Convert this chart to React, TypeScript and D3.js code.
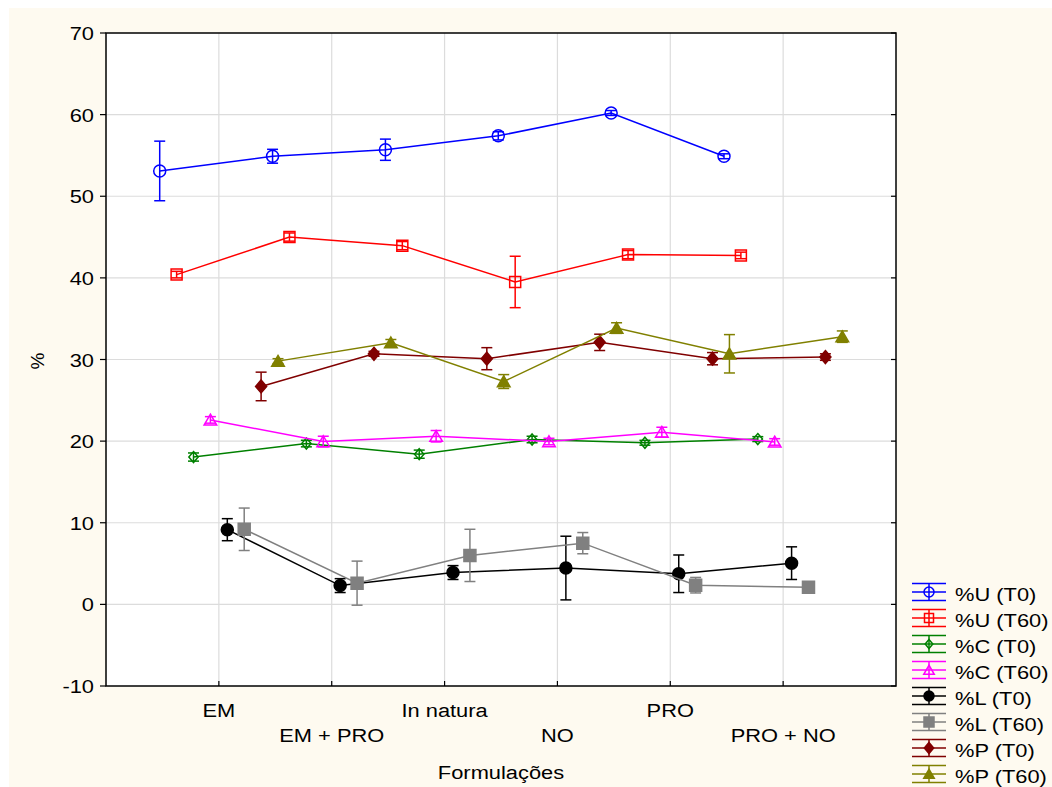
import React, { useEffect, useRef } from 'react';
import * as d3 from 'd3';

// Categories on the x axis
const categories = ['EM', 'EM + PRO', 'In natura', 'NO', 'PRO', 'PRO + NO'];

// Series names (legend order)
const seriesNames = ['%U (T0)', '%U (T60)', '%C (T0)', '%C (T60)', '%L (T0)', '%L (T60)', '%P (T0)', '%P (T60)'];

// Mean values per series, one per category
const uT0 = [53.1, 54.9, 55.7, 57.4, 60.2, 54.9];
const uT60 = [40.4, 45.0, 43.95, 39.5, 42.85, 42.75];
const cT0 = [18.05, 19.7, 18.4, 20.2, 19.8, 20.25];
const cT60 = [22.6, 19.95, 20.6, 19.95, 21.1, 19.9];
const lT0 = [9.15, 2.3, 3.9, 4.45, 3.75, 5.05];
const lT60 = [9.2, 2.6, 6.0, 7.5, 2.35, 2.1];
const pT0 = [26.7, 30.7, 30.1, 32.1, 30.1, 30.3];
const pT60 = [29.8, 32.05, 27.3, 33.85, 30.7, 32.8];

// Error bar half-widths
const uT0Err = [3.65, 0.85, 1.3, 0.5, 0.3, 0.3];
const uT60Err = [0.4, 0.5, 0.5, 3.15, 0.5, 0.4];
const cT0Err = [0.5, 0.4, 0.5, 0.4, 0.3, 0.3];
const cT60Err = [0.4, 0.65, 0.7, 0.4, 0.6, 0.4];
const lT0Err = [1.35, 0.85, 0.85, 3.9, 2.3, 2.0];
const lT60Err = [2.6, 2.7, 3.2, 1.3, 0.95, 0.3];
const pT0Err = [1.75, 0.3, 1.35, 1.0, 0.75, 0.4];
const pT60Err = [0.3, 0.4, 0.85, 0.65, 2.35, 0.7];

const yTicks = [-10, 0, 10, 20, 30, 40, 50, 60, 70];

const seriesValues = [uT0, uT60, cT0, cT60, lT0, lT60, pT0, pT60];
const seriesErrors = [uT0Err, uT60Err, cT0Err, cT60Err, lT0Err, lT60Err, pT0Err, pT60Err];
const colors = ['#0000ff', '#ff0000', '#008000', '#ff00ff', '#000000', '#808080', '#800000', '#808000'];
const shapes = ['circle', 'square', 'diamond', 'triangle', 'circle', 'square', 'diamond', 'triangle'];
const filled = [false, false, false, false, true, true, true, true];

const FONT = 'Liberation Sans, Arial, sans-serif';
const STRETCH = 1.15; // the original lettering is a bit wide

// marker path centred at 0,0; s = half size
const markerPath = (shape: string, s: number) => {
    if (shape === 'circle') {
        return `M${s},0A${s},${s} 0 1,1 ${-s},0A${s},${s} 0 1,1 ${s},0Z`;
    }
    if (shape === 'square') {
        return `M${-s},${-s}H${s}V${s}H${-s}Z`;
    }
    if (shape === 'diamond') {
        return `M0,${-s}L${s * 0.85},0L0,${s}L${-s * 0.85},0Z`;
    }
    return `M0,${-s * 0.95}L${s * 1.05},${s * 0.85}L${-s * 1.05},${s * 0.85}Z`;
};

const markerSize = (shape: string, isFilled: boolean) => {
    if (shape === 'circle') return 6;
    if (shape === 'square') return isFilled ? 6 : 5.5;
    if (shape === 'diamond') return isFilled ? 6.5 : 5.5;
    return 6;
};

export default function App() {
    const svgRef = useRef<SVGSVGElement>(null);

    useEffect(() => {
        const W = 1052;
        const H = 787;
        const left = 106, right = 896, top = 33, bottom = 686;

        const svg = d3.select(svgRef.current);
        svg.selectAll('*').remove();

        const addText = (g: any, tx: number, ty: number, txt: string, anchor: string, size = 19) =>
            g.append('text')
                .attr('transform', `translate(${tx},${ty}) scale(${STRETCH},1)`)
                .attr('text-anchor', anchor)
                .style('font-family', FONT).style('font-size', `${size}px`)
                .text(txt);

        // page background + cream chart area
        svg.append('rect').attr('width', W).attr('height', H).attr('fill', '#ffffff');
        svg.append('rect').attr('x', 9).attr('y', 8).attr('width', W - 9).attr('height', H - 8).attr('fill', '#fefaf0');
        svg.append('rect').attr('x', left).attr('y', top).attr('width', right - left).attr('height', bottom - top).attr('fill', '#ffffff');

        const x = d3.scalePoint<string>().domain(categories).range([left, right]).padding(1);
        const y = d3.scaleLinear().domain([-10, 70]).range([bottom, top]);
        const step = 16.9;
        const xOf = (si: number, ci: number) => (x(categories[ci]) as number) + (si - 3.5) * step;

        // grid
        const grid = svg.append('g').attr('stroke', '#dcdcdc').attr('stroke-width', 1.2);
        yTicks.slice(1, -1).forEach(t => {
            grid.append('line').attr('x1', left).attr('x2', right).attr('y1', y(t)).attr('y2', y(t));
        });
        categories.forEach(c => {
            grid.append('line').attr('x1', x(c) as number).attr('x2', x(c) as number).attr('y1', top).attr('y2', bottom);
        });

        // frame
        svg.append('rect').attr('x', left).attr('y', top).attr('width', right - left).attr('height', bottom - top)
            .attr('fill', 'none').attr('stroke', '#000').attr('stroke-width', 1.5);

        // y ticks (outside left, inside right)
        const yAxis = svg.append('g');
        yTicks.forEach(t => {
            yAxis.append('line').attr('x1', left - 6).attr('x2', left).attr('y1', y(t)).attr('y2', y(t)).attr('stroke', '#000').attr('stroke-width', 1.2);
            yAxis.append('line').attr('x1', right - 5).attr('x2', right).attr('y1', y(t)).attr('y2', y(t)).attr('stroke', '#000').attr('stroke-width', 1.2);
            addText(yAxis, 94, y(t) + 7, String(t), 'end');
        });

        // x ticks and labels (alternating rows)
        categories.forEach((c, i) => {
            svg.append('line').attr('x1', x(c) as number).attr('x2', x(c) as number).attr('y1', bottom - 5).attr('y2', bottom)
                .attr('stroke', '#000').attr('stroke-width', 1.2);
            addText(svg, x(c) as number, i % 2 === 0 ? 717 : 742, c, 'middle');
        });

        // axis titles
        addText(svg, 501, 779, 'Formulações', 'middle');
        svg.append('text').attr('text-anchor', 'middle')
            .attr('transform', `translate(44,361)rotate(-90)`)
            .style('font-family', FONT).style('font-size', '19px').text('%');

        // series
        seriesValues.forEach((vals, si) => {
            const g = svg.append('g');
            const color = colors[si];
            const pts = vals.map((v, ci) => [xOf(si, ci), y(v)] as [number, number]);

            g.append('path')
                .attr('d', d3.line()(pts))
                .attr('fill', 'none').attr('stroke', color).attr('stroke-width', 1.5);

            // error bars
            vals.forEach((v, ci) => {
                const e = seriesErrors[si][ci];
                const cx = xOf(si, ci);
                const y1 = y(v + e), y2 = y(v - e);
                g.append('line').attr('x1', cx).attr('x2', cx).attr('y1', y1).attr('y2', y2).attr('stroke', color).attr('stroke-width', 1.5);
                [y1, y2].forEach(yy => {
                    g.append('line').attr('x1', cx - 5.5).attr('x2', cx + 5.5).attr('y1', yy).attr('y2', yy).attr('stroke', color).attr('stroke-width', 1.5);
                });
            });

            // markers
            g.selectAll('path.m')
                .data(pts)
                .enter()
                .append('path')
                .attr('class', 'm')
                .attr('transform', d => `translate(${d[0]},${d[1]})`)
                .attr('d', markerPath(shapes[si], markerSize(shapes[si], filled[si])))
                .attr('fill', filled[si] ? color : 'none')
                .attr('stroke', color)
                .attr('stroke-width', 1.5);
        });

        // legend
        const legend = svg.append('g');
        seriesNames.forEach((name, i) => {
            const cy = 592 + i * 26;
            const color = colors[i];
            [cy - 8.5, cy, cy + 8.5].forEach(yy => {
                legend.append('line').attr('x1', 912).attr('x2', 946).attr('y1', yy).attr('y2', yy).attr('stroke', color).attr('stroke-width', 1.5);
            });
            legend.append('line').attr('x1', 929).attr('x2', 929).attr('y1', cy - 8.5).attr('y2', cy + 8.5).attr('stroke', color).attr('stroke-width', 1.5);
            legend.append('path')
                .attr('transform', `translate(929,${cy})`)
                .attr('d', markerPath(shapes[i], markerSize(shapes[i], filled[i]) - 1))
                .attr('fill', filled[i] ? color : 'none')
                .attr('stroke', color).attr('stroke-width', 1.5);
            addText(legend, 955, cy + 9, name, 'start');
        });
    }, []);

    return (
        <div>
            <svg ref={svgRef} width={1052} height={787} style={{ position: 'absolute', left: 0, top: 0 }}></svg>
        </div>
    );
}
